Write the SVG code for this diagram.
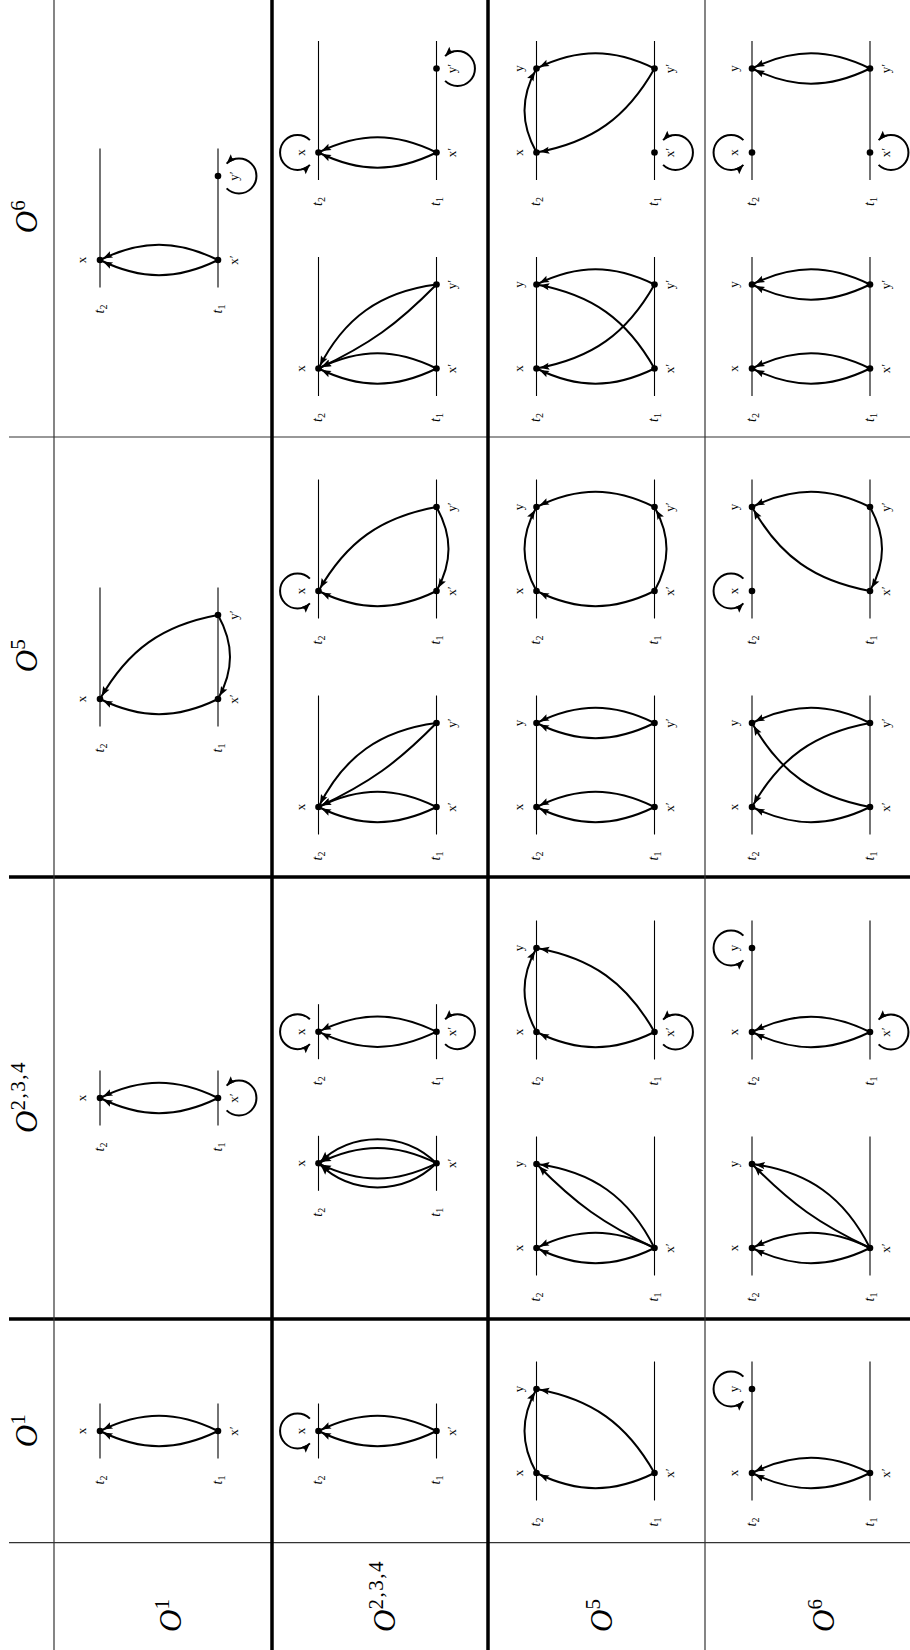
<svg xmlns="http://www.w3.org/2000/svg" width="910" height="1650" viewBox="0 0 910 1650">
<style>
.tl{stroke:#000;stroke-width:1.1}
.e{fill:none;stroke:#000;stroke-width:2;marker-end:url(#ah)}
.lp{fill:none;stroke:#000;stroke-width:2;marker-end:url(#al)}
.n{fill:#000}
.lb{font-family:"Liberation Serif",serif;font-size:13px;text-anchor:middle}
.tt{font-family:"Liberation Serif",serif;font-style:italic;font-size:14px;text-anchor:middle}
.sb{font-size:10px;font-style:normal}
.hd{font-family:"Liberation Serif",serif;font-style:italic;font-size:31px}
.sup{font-size:21px;font-style:normal;letter-spacing:1.5px}
.thin{stroke:#333;stroke-width:1.2}
.thick{stroke:#000;stroke-width:3.5}
</style>
<defs>
<marker id="ah" markerUnits="userSpaceOnUse" viewBox="-12 -5 16 10" markerWidth="16" markerHeight="10" refX="3.3" refY="0" orient="auto"><path d="M0,0 L-9.5,-3.6 L-7.8,0 L-9.5,3.6 Z" fill="#000"/></marker>
<marker id="al" markerUnits="userSpaceOnUse" viewBox="-12 -5 16 10" markerWidth="16" markerHeight="10" refX="0" refY="0" orient="auto"><path d="M0,0 L-9.5,-3.6 L-7.8,0 L-9.5,3.6 Z" fill="#000"/></marker>
</defs>
<rect width="910" height="1650" fill="#fff"/>
<g transform="matrix(0,-1,1,0,0,1650)">
<g id="grid">
<line class="thin" x1="107.3" y1="9" x2="107.3" y2="910"/>
<line class="thick" x1="331" y1="9" x2="331" y2="910"/>
<line class="thick" x1="773" y1="9" x2="773" y2="910"/>
<line class="thin" x1="1213" y1="9" x2="1213" y2="910"/>
<line class="thin" x1="0" y1="54" x2="1650" y2="54"/>
<line class="thick" x1="0" y1="272" x2="1650" y2="272"/>
<line class="thick" x1="0" y1="488" x2="1650" y2="488"/>
<line class="thin" x1="0" y1="705" x2="1650" y2="705"/>
</g>
<g id="headers">
<text class="hd" x="220" y="37" text-anchor="middle">O<tspan class="sup" dy="-12">1</tspan></text>
<text class="hd" x="553" y="37" text-anchor="middle">O<tspan class="sup" dy="-12">2,3,4</tspan></text>
<text class="hd" x="995" y="37" text-anchor="middle">O<tspan class="sup" dy="-12">5</tspan></text>
<text class="hd" x="1434" y="37" text-anchor="middle">O<tspan class="sup" dy="-12">6</tspan></text>
<text class="hd" x="18" y="181">O<tspan class="sup" dy="-12">1</tspan></text>
<text class="hd" x="18" y="395">O<tspan class="sup" dy="-12">2,3,4</tspan></text>
<text class="hd" x="18" y="612">O<tspan class="sup" dy="-12">5</tspan></text>
<text class="hd" x="18" y="834">O<tspan class="sup" dy="-12">6</tspan></text>
</g>

<!-- Row O1 -->
<g id="d11" transform="translate(219,100)">
<line class="tl" x1="-27.5" y1="0" x2="27.5" y2="0"/><line class="tl" x1="-27.5" y1="118" x2="27.5" y2="118"/>
<text class="tt" x="-49" y="3.5">t<tspan class="sb" dy="3">2</tspan></text><text class="tt" x="-49" y="121.5">t<tspan class="sb" dy="3">1</tspan></text>
<g class="connectors"><path class="e" d="M0,118 C20.25,76.5 20.25,41.5 0,0"/><path class="e" d="M0,118 C-20.25,76.5 -20.25,41.5 0,0"/></g>
<circle class="n" cx="0" cy="0" r="3.3"/><circle class="n" cx="0" cy="118" r="3.3"/>
<text class="lb" x="0" y="-13.7">x</text><text class="lb" x="0" y="137.7">x′</text>
</g>
<g id="d12" transform="translate(552,100)">
<line class="tl" x1="-27.5" y1="0" x2="27.5" y2="0"/><line class="tl" x1="-27.5" y1="118" x2="27.5" y2="118"/>
<text class="tt" x="-49" y="3.5">t<tspan class="sb" dy="3">2</tspan></text><text class="tt" x="-49" y="121.5">t<tspan class="sb" dy="3">1</tspan></text>
<g class="connectors"><path class="e" d="M0,118 C20.25,76.5 20.25,41.5 0,0"/><path class="e" d="M0,118 C-20.25,76.5 -20.25,41.5 0,0"/><path class="lp" d="M-12.4,126.6 A17.5,17.5 0 1 0 12.4,126.6"/></g>
<circle class="n" cx="0" cy="0" r="3.3"/><circle class="n" cx="0" cy="118" r="3.3"/>
<text class="lb" x="0" y="-13.7">x</text><text class="lb" x="0" y="137.7">x′</text>
</g>
<g id="d13" transform="translate(951,100)">
<line class="tl" x1="-27.5" y1="0" x2="111.5" y2="0"/><line class="tl" x1="-27.5" y1="118" x2="111.5" y2="118"/>
<text class="tt" x="-49" y="3.5">t<tspan class="sb" dy="3">2</tspan></text><text class="tt" x="-49" y="121.5">t<tspan class="sb" dy="3">1</tspan></text>
<g class="connectors"><path class="e" d="M0,118 C-20.25,76.5 -20.25,41.5 0,0"/><path class="e" d="M84,118 C73.7,62.2 49.4,28 0,0"/><path class="e" d="M84,118 C55.2,134 28.8,134 0,118"/></g>
<circle class="n" cx="0" cy="0" r="3.3"/><circle class="n" cx="0" cy="118" r="3.3"/><circle class="n" cx="84" cy="118" r="3.3"/>
<text class="lb" x="0" y="-13.7">x</text><text class="lb" x="0" y="137.7">x′</text><text class="lb" x="84" y="137.7">y′</text>
</g>
<g id="d14" transform="translate(1390,100)">
<line class="tl" x1="-27.5" y1="0" x2="111.5" y2="0"/><line class="tl" x1="-27.5" y1="118" x2="111.5" y2="118"/>
<text class="tt" x="-49" y="3.5">t<tspan class="sb" dy="3">2</tspan></text><text class="tt" x="-49" y="121.5">t<tspan class="sb" dy="3">1</tspan></text>
<g class="connectors"><path class="e" d="M0,118 C20.25,76.5 20.25,41.5 0,0"/><path class="e" d="M0,118 C-20.25,76.5 -20.25,41.5 0,0"/><path class="lp" d="M71.6,126.6 A17.5,17.5 0 1 0 96.4,126.6"/></g>
<circle class="n" cx="0" cy="0" r="3.3"/><circle class="n" cx="0" cy="118" r="3.3"/><circle class="n" cx="84" cy="118" r="3.3"/>
<text class="lb" x="0" y="-13.7">x</text><text class="lb" x="0" y="137.7">x′</text><text class="lb" x="84" y="137.7">y′</text>
</g>

<!-- Row O2,3,4 -->
<g id="d21" transform="translate(219,318.5)">
<line class="tl" x1="-27.5" y1="0" x2="27.5" y2="0"/><line class="tl" x1="-27.5" y1="118" x2="27.5" y2="118"/>
<text class="tt" x="-49" y="3.5">t<tspan class="sb" dy="3">2</tspan></text><text class="tt" x="-49" y="121.5">t<tspan class="sb" dy="3">1</tspan></text>
<g class="connectors"><path class="e" d="M0,118 C20.25,76.5 20.25,41.5 0,0"/><path class="e" d="M0,118 C-20.25,76.5 -20.25,41.5 0,0"/><path class="lp" d="M12.4,-8.6 A17.5,17.5 0 1 0 -12.4,-8.6"/></g>
<circle class="n" cx="0" cy="0" r="3.3"/><circle class="n" cx="0" cy="118" r="3.3"/>
<text class="lb" x="0" y="-13.7">x</text><text class="lb" x="0" y="137.7">x′</text>
</g>
<g id="d22a" transform="translate(486.7,318.5)">
<line class="tl" x1="-27.5" y1="0" x2="27.5" y2="0"/><line class="tl" x1="-27.5" y1="118" x2="27.5" y2="118"/>
<text class="tt" x="-49" y="3.5">t<tspan class="sb" dy="3">2</tspan></text><text class="tt" x="-49" y="121.5">t<tspan class="sb" dy="3">1</tspan></text>
<g class="connectors"><path class="e" d="M0,118 C20.25,76.5 20.25,41.5 0,0"/><path class="e" d="M0,118 C-20.25,76.5 -20.25,41.5 0,0"/><path class="e" d="M0,118 C32.1,84.8 32.1,33.2 0,0"/><path class="e" d="M0,118 C-32.1,84.8 -32.1,33.2 0,0"/></g>
<circle class="n" cx="0" cy="0" r="3.3"/><circle class="n" cx="0" cy="118" r="3.3"/>
<text class="lb" x="0" y="-13.7">x</text><text class="lb" x="0" y="137.7">x′</text>
</g>
<g id="d22b" transform="translate(618.3,318.5)">
<line class="tl" x1="-27.5" y1="0" x2="27.5" y2="0"/><line class="tl" x1="-27.5" y1="118" x2="27.5" y2="118"/>
<text class="tt" x="-49" y="3.5">t<tspan class="sb" dy="3">2</tspan></text><text class="tt" x="-49" y="121.5">t<tspan class="sb" dy="3">1</tspan></text>
<g class="connectors"><path class="e" d="M0,118 C20.25,76.5 20.25,41.5 0,0"/><path class="e" d="M0,118 C-20.25,76.5 -20.25,41.5 0,0"/><path class="lp" d="M12.4,-8.6 A17.5,17.5 0 1 0 -12.4,-8.6"/><path class="lp" d="M-12.4,126.6 A17.5,17.5 0 1 0 12.4,126.6"/></g>
<circle class="n" cx="0" cy="0" r="3.3"/><circle class="n" cx="0" cy="118" r="3.3"/>
<text class="lb" x="0" y="-13.7">x</text><text class="lb" x="0" y="137.7">x′</text>
</g>
<g id="d23a" transform="translate(843,318.5)">
<line class="tl" x1="-27.5" y1="0" x2="111.5" y2="0"/><line class="tl" x1="-27.5" y1="118" x2="111.5" y2="118"/>
<text class="tt" x="-49" y="3.5">t<tspan class="sb" dy="3">2</tspan></text><text class="tt" x="-49" y="121.5">t<tspan class="sb" dy="3">1</tspan></text>
<g class="connectors"><path class="e" d="M0,118 C20.25,76.5 20.25,41.5 0,0"/><path class="e" d="M0,118 C-20.25,76.5 -20.25,41.5 0,0"/><path class="e" d="M84,118 C76.7,61.7 50.7,25.4 0,0"/><path class="e" d="M84,118 C43.6,78.2 24.3,51.3 0,0"/></g>
<circle class="n" cx="0" cy="0" r="3.3"/><circle class="n" cx="0" cy="118" r="3.3"/><circle class="n" cx="84" cy="118" r="3.3"/>
<text class="lb" x="0" y="-13.7">x</text><text class="lb" x="0" y="137.7">x′</text><text class="lb" x="84" y="137.7">y′</text>
</g>
<g id="d23b" transform="translate(1059,318.5)">
<line class="tl" x1="-27.5" y1="0" x2="111.5" y2="0"/><line class="tl" x1="-27.5" y1="118" x2="111.5" y2="118"/>
<text class="tt" x="-49" y="3.5">t<tspan class="sb" dy="3">2</tspan></text><text class="tt" x="-49" y="121.5">t<tspan class="sb" dy="3">1</tspan></text>
<g class="connectors"><path class="e" d="M0,118 C-20.25,76.5 -20.25,41.5 0,0"/><path class="e" d="M84,118 C73.7,62.2 49.4,28 0,0"/><path class="e" d="M84,118 C55.2,134 28.8,134 0,118"/><path class="lp" d="M12.4,-8.6 A17.5,17.5 0 1 0 -12.4,-8.6"/></g>
<circle class="n" cx="0" cy="0" r="3.3"/><circle class="n" cx="0" cy="118" r="3.3"/><circle class="n" cx="84" cy="118" r="3.3"/>
<text class="lb" x="0" y="-13.7">x</text><text class="lb" x="0" y="137.7">x′</text><text class="lb" x="84" y="137.7">y′</text>
</g>
<g id="d24a" transform="translate(1281.5,318.5)">
<line class="tl" x1="-27.5" y1="0" x2="111.5" y2="0"/><line class="tl" x1="-27.5" y1="118" x2="111.5" y2="118"/>
<text class="tt" x="-49" y="3.5">t<tspan class="sb" dy="3">2</tspan></text><text class="tt" x="-49" y="121.5">t<tspan class="sb" dy="3">1</tspan></text>
<g class="connectors"><path class="e" d="M0,118 C20.25,76.5 20.25,41.5 0,0"/><path class="e" d="M0,118 C-20.25,76.5 -20.25,41.5 0,0"/><path class="e" d="M84,118 C76.7,61.7 50.7,25.4 0,0"/><path class="e" d="M84,118 C43.6,78.2 24.3,51.3 0,0"/></g>
<circle class="n" cx="0" cy="0" r="3.3"/><circle class="n" cx="0" cy="118" r="3.3"/><circle class="n" cx="84" cy="118" r="3.3"/>
<text class="lb" x="0" y="-13.7">x</text><text class="lb" x="0" y="137.7">x′</text><text class="lb" x="84" y="137.7">y′</text>
</g>
<g id="d24b" transform="translate(1497.5,318.5)">
<line class="tl" x1="-27.5" y1="0" x2="111.5" y2="0"/><line class="tl" x1="-27.5" y1="118" x2="111.5" y2="118"/>
<text class="tt" x="-49" y="3.5">t<tspan class="sb" dy="3">2</tspan></text><text class="tt" x="-49" y="121.5">t<tspan class="sb" dy="3">1</tspan></text>
<g class="connectors"><path class="e" d="M0,118 C20.25,76.5 20.25,41.5 0,0"/><path class="e" d="M0,118 C-20.25,76.5 -20.25,41.5 0,0"/><path class="lp" d="M12.4,-8.6 A17.5,17.5 0 1 0 -12.4,-8.6"/><path class="lp" d="M71.6,126.6 A17.5,17.5 0 1 0 96.4,126.6"/></g>
<circle class="n" cx="0" cy="0" r="3.3"/><circle class="n" cx="0" cy="118" r="3.3"/><circle class="n" cx="84" cy="118" r="3.3"/>
<text class="lb" x="0" y="-13.7">x</text><text class="lb" x="0" y="137.7">x′</text><text class="lb" x="84" y="137.7">y′</text>
</g>

<!-- Row O5 -->
<g id="d31" transform="translate(177,536.5)">
<line class="tl" x1="-27.5" y1="0" x2="111.5" y2="0"/><line class="tl" x1="-27.5" y1="118" x2="111.5" y2="118"/>
<text class="tt" x="-49" y="3.5">t<tspan class="sb" dy="3">2</tspan></text><text class="tt" x="-49" y="121.5">t<tspan class="sb" dy="3">1</tspan></text>
<g class="connectors"><path class="e" d="M0,118 C-20.25,76.5 -20.25,41.5 0,0"/><path class="e" d="M0,118 C49.4,90 73.7,55.8 84,0"/><path class="e" d="M0,0 C28.8,-16 55.2,-16 84,0"/></g>
<circle class="n" cx="0" cy="0" r="3.3"/><circle class="n" cx="84" cy="0" r="3.3"/><circle class="n" cx="0" cy="118" r="3.3"/>
<text class="lb" x="0" y="-13.7">x</text><text class="lb" x="84" y="-13.7">y</text><text class="lb" x="0" y="137.7">x′</text>
</g>
<g id="d32a" transform="translate(402,536.5)">
<line class="tl" x1="-27.5" y1="0" x2="111.5" y2="0"/><line class="tl" x1="-27.5" y1="118" x2="111.5" y2="118"/>
<text class="tt" x="-49" y="3.5">t<tspan class="sb" dy="3">2</tspan></text><text class="tt" x="-49" y="121.5">t<tspan class="sb" dy="3">1</tspan></text>
<g class="connectors"><path class="e" d="M0,118 C20.25,76.5 20.25,41.5 0,0"/><path class="e" d="M0,118 C-20.25,76.5 -20.25,41.5 0,0"/><path class="e" d="M0,118 C50.7,92.6 76.7,56.3 84,0"/><path class="e" d="M0,118 C24.3,66.7 43.6,39.8 84,0"/></g>
<circle class="n" cx="0" cy="0" r="3.3"/><circle class="n" cx="84" cy="0" r="3.3"/><circle class="n" cx="0" cy="118" r="3.3"/>
<text class="lb" x="0" y="-13.7">x</text><text class="lb" x="84" y="-13.7">y</text><text class="lb" x="0" y="137.7">x′</text>
</g>
<g id="d32b" transform="translate(618,536.5)">
<line class="tl" x1="-27.5" y1="0" x2="111.5" y2="0"/><line class="tl" x1="-27.5" y1="118" x2="111.5" y2="118"/>
<text class="tt" x="-49" y="3.5">t<tspan class="sb" dy="3">2</tspan></text><text class="tt" x="-49" y="121.5">t<tspan class="sb" dy="3">1</tspan></text>
<g class="connectors"><path class="e" d="M0,118 C-20.25,76.5 -20.25,41.5 0,0"/><path class="e" d="M0,118 C49.4,90 73.7,55.8 84,0"/><path class="e" d="M0,0 C28.8,-16 55.2,-16 84,0"/><path class="lp" d="M-12.4,126.6 A17.5,17.5 0 1 0 12.4,126.6"/></g>
<circle class="n" cx="0" cy="0" r="3.3"/><circle class="n" cx="84" cy="0" r="3.3"/><circle class="n" cx="0" cy="118" r="3.3"/>
<text class="lb" x="0" y="-13.7">x</text><text class="lb" x="84" y="-13.7">y</text><text class="lb" x="0" y="137.7">x′</text>
</g>
<g id="d33a" transform="translate(843,536.5)">
<line class="tl" x1="-27.5" y1="0" x2="111.5" y2="0"/><line class="tl" x1="-27.5" y1="118" x2="111.5" y2="118"/>
<text class="tt" x="-49" y="3.5">t<tspan class="sb" dy="3">2</tspan></text><text class="tt" x="-49" y="121.5">t<tspan class="sb" dy="3">1</tspan></text>
<g class="connectors"><path class="e" d="M0,118 C20.25,76.5 20.25,41.5 0,0"/><path class="e" d="M0,118 C-20.25,76.5 -20.25,41.5 0,0"/><path class="e" d="M84,118 C104.25,76.5 104.25,41.5 84,0"/><path class="e" d="M84,118 C63.75,76.5 63.75,41.5 84,0"/></g>
<circle class="n" cx="0" cy="0" r="3.3"/><circle class="n" cx="84" cy="0" r="3.3"/><circle class="n" cx="0" cy="118" r="3.3"/><circle class="n" cx="84" cy="118" r="3.3"/>
<text class="lb" x="0" y="-13.7">x</text><text class="lb" x="84" y="-13.7">y</text><text class="lb" x="0" y="137.7">x′</text><text class="lb" x="84" y="137.7">y′</text>
</g>
<g id="d33b" transform="translate(1059,536.5)">
<line class="tl" x1="-27.5" y1="0" x2="111.5" y2="0"/><line class="tl" x1="-27.5" y1="118" x2="111.5" y2="118"/>
<text class="tt" x="-49" y="3.5">t<tspan class="sb" dy="3">2</tspan></text><text class="tt" x="-49" y="121.5">t<tspan class="sb" dy="3">1</tspan></text>
<g class="connectors"><path class="e" d="M0,118 C-20.25,76.5 -20.25,41.5 0,0"/><path class="e" d="M84,118 C104.25,76.5 104.25,41.5 84,0"/><path class="e" d="M0,0 C28.8,-16 55.2,-16 84,0"/><path class="e" d="M0,118 C28.8,134 55.2,134 84,118"/></g>
<circle class="n" cx="0" cy="0" r="3.3"/><circle class="n" cx="84" cy="0" r="3.3"/><circle class="n" cx="0" cy="118" r="3.3"/><circle class="n" cx="84" cy="118" r="3.3"/>
<text class="lb" x="0" y="-13.7">x</text><text class="lb" x="84" y="-13.7">y</text><text class="lb" x="0" y="137.7">x′</text><text class="lb" x="84" y="137.7">y′</text>
</g>
<g id="d34a" transform="translate(1281.5,536.5)">
<line class="tl" x1="-27.5" y1="0" x2="111.5" y2="0"/><line class="tl" x1="-27.5" y1="118" x2="111.5" y2="118"/>
<text class="tt" x="-49" y="3.5">t<tspan class="sb" dy="3">2</tspan></text><text class="tt" x="-49" y="121.5">t<tspan class="sb" dy="3">1</tspan></text>
<g class="connectors"><path class="e" d="M0,118 C-20.25,76.5 -20.25,41.5 0,0"/><path class="e" d="M84,118 C104.25,76.5 104.25,41.5 84,0"/><path class="e" d="M0,118 C49.4,90 73.7,55.8 84,0"/><path class="e" d="M84,118 C34.6,90 10.3,55.8 0,0"/></g>
<circle class="n" cx="0" cy="0" r="3.3"/><circle class="n" cx="84" cy="0" r="3.3"/><circle class="n" cx="0" cy="118" r="3.3"/><circle class="n" cx="84" cy="118" r="3.3"/>
<text class="lb" x="0" y="-13.7">x</text><text class="lb" x="84" y="-13.7">y</text><text class="lb" x="0" y="137.7">x′</text><text class="lb" x="84" y="137.7">y′</text>
</g>
<g id="d34b" transform="translate(1497.5,536.5)">
<line class="tl" x1="-27.5" y1="0" x2="111.5" y2="0"/><line class="tl" x1="-27.5" y1="118" x2="111.5" y2="118"/>
<text class="tt" x="-49" y="3.5">t<tspan class="sb" dy="3">2</tspan></text><text class="tt" x="-49" y="121.5">t<tspan class="sb" dy="3">1</tspan></text>
<g class="connectors"><path class="e" d="M84,118 C104.25,76.5 104.25,41.5 84,0"/><path class="e" d="M84,118 C34.6,90 10.3,55.8 0,0"/><path class="e" d="M0,0 C28.8,-16 55.2,-16 84,0"/><path class="lp" d="M-12.4,126.6 A17.5,17.5 0 1 0 12.4,126.6"/></g>
<circle class="n" cx="0" cy="0" r="3.3"/><circle class="n" cx="84" cy="0" r="3.3"/><circle class="n" cx="0" cy="118" r="3.3"/><circle class="n" cx="84" cy="118" r="3.3"/>
<text class="lb" x="0" y="-13.7">x</text><text class="lb" x="84" y="-13.7">y</text><text class="lb" x="0" y="137.7">x′</text><text class="lb" x="84" y="137.7">y′</text>
</g>

<!-- Row O6 -->
<g id="d41" transform="translate(177,752)">
<line class="tl" x1="-27.5" y1="0" x2="111.5" y2="0"/><line class="tl" x1="-27.5" y1="118" x2="111.5" y2="118"/>
<text class="tt" x="-49" y="3.5">t<tspan class="sb" dy="3">2</tspan></text><text class="tt" x="-49" y="121.5">t<tspan class="sb" dy="3">1</tspan></text>
<g class="connectors"><path class="e" d="M0,118 C20.25,76.5 20.25,41.5 0,0"/><path class="e" d="M0,118 C-20.25,76.5 -20.25,41.5 0,0"/><path class="lp" d="M96.4,-8.6 A17.5,17.5 0 1 0 71.6,-8.6"/></g>
<circle class="n" cx="0" cy="0" r="3.3"/><circle class="n" cx="84" cy="0" r="3.3"/><circle class="n" cx="0" cy="118" r="3.3"/>
<text class="lb" x="0" y="-13.7">x</text><text class="lb" x="84" y="-13.7">y</text><text class="lb" x="0" y="137.7">x′</text>
</g>
<g id="d42a" transform="translate(402,752)">
<line class="tl" x1="-27.5" y1="0" x2="111.5" y2="0"/><line class="tl" x1="-27.5" y1="118" x2="111.5" y2="118"/>
<text class="tt" x="-49" y="3.5">t<tspan class="sb" dy="3">2</tspan></text><text class="tt" x="-49" y="121.5">t<tspan class="sb" dy="3">1</tspan></text>
<g class="connectors"><path class="e" d="M0,118 C20.25,76.5 20.25,41.5 0,0"/><path class="e" d="M0,118 C-20.25,76.5 -20.25,41.5 0,0"/><path class="e" d="M0,118 C50.7,92.6 76.7,56.3 84,0"/><path class="e" d="M0,118 C24.3,66.7 43.6,39.8 84,0"/></g>
<circle class="n" cx="0" cy="0" r="3.3"/><circle class="n" cx="84" cy="0" r="3.3"/><circle class="n" cx="0" cy="118" r="3.3"/>
<text class="lb" x="0" y="-13.7">x</text><text class="lb" x="84" y="-13.7">y</text><text class="lb" x="0" y="137.7">x′</text>
</g>
<g id="d42b" transform="translate(618,752)">
<line class="tl" x1="-27.5" y1="0" x2="111.5" y2="0"/><line class="tl" x1="-27.5" y1="118" x2="111.5" y2="118"/>
<text class="tt" x="-49" y="3.5">t<tspan class="sb" dy="3">2</tspan></text><text class="tt" x="-49" y="121.5">t<tspan class="sb" dy="3">1</tspan></text>
<g class="connectors"><path class="e" d="M0,118 C20.25,76.5 20.25,41.5 0,0"/><path class="e" d="M0,118 C-20.25,76.5 -20.25,41.5 0,0"/><path class="lp" d="M96.4,-8.6 A17.5,17.5 0 1 0 71.6,-8.6"/><path class="lp" d="M-12.4,126.6 A17.5,17.5 0 1 0 12.4,126.6"/></g>
<circle class="n" cx="0" cy="0" r="3.3"/><circle class="n" cx="84" cy="0" r="3.3"/><circle class="n" cx="0" cy="118" r="3.3"/>
<text class="lb" x="0" y="-13.7">x</text><text class="lb" x="84" y="-13.7">y</text><text class="lb" x="0" y="137.7">x′</text>
</g>
<g id="d43a" transform="translate(843,752)">
<line class="tl" x1="-27.5" y1="0" x2="111.5" y2="0"/><line class="tl" x1="-27.5" y1="118" x2="111.5" y2="118"/>
<text class="tt" x="-49" y="3.5">t<tspan class="sb" dy="3">2</tspan></text><text class="tt" x="-49" y="121.5">t<tspan class="sb" dy="3">1</tspan></text>
<g class="connectors"><path class="e" d="M0,118 C-20.25,76.5 -20.25,41.5 0,0"/><path class="e" d="M84,118 C104.25,76.5 104.25,41.5 84,0"/><path class="e" d="M84,118 C73.7,62.2 49.4,28 0,0"/><path class="e" d="M0,118 C10.3,62.2 34.6,28 84,0"/></g>
<circle class="n" cx="0" cy="0" r="3.3"/><circle class="n" cx="84" cy="0" r="3.3"/><circle class="n" cx="0" cy="118" r="3.3"/><circle class="n" cx="84" cy="118" r="3.3"/>
<text class="lb" x="0" y="-13.7">x</text><text class="lb" x="84" y="-13.7">y</text><text class="lb" x="0" y="137.7">x′</text><text class="lb" x="84" y="137.7">y′</text>
</g>
<g id="d43b" transform="translate(1059,752)">
<line class="tl" x1="-27.5" y1="0" x2="111.5" y2="0"/><line class="tl" x1="-27.5" y1="118" x2="111.5" y2="118"/>
<text class="tt" x="-49" y="3.5">t<tspan class="sb" dy="3">2</tspan></text><text class="tt" x="-49" y="121.5">t<tspan class="sb" dy="3">1</tspan></text>
<g class="connectors"><path class="e" d="M84,118 C104.25,76.5 104.25,41.5 84,0"/><path class="e" d="M84,118 C55.2,134 28.8,134 0,118"/><path class="e" d="M0,118 C10.3,62.2 34.6,28 84,0"/><path class="lp" d="M12.4,-8.6 A17.5,17.5 0 1 0 -12.4,-8.6"/></g>
<circle class="n" cx="0" cy="0" r="3.3"/><circle class="n" cx="84" cy="0" r="3.3"/><circle class="n" cx="0" cy="118" r="3.3"/><circle class="n" cx="84" cy="118" r="3.3"/>
<text class="lb" x="0" y="-13.7">x</text><text class="lb" x="84" y="-13.7">y</text><text class="lb" x="0" y="137.7">x′</text><text class="lb" x="84" y="137.7">y′</text>
</g>
<g id="d44a" transform="translate(1281.5,752)">
<line class="tl" x1="-27.5" y1="0" x2="111.5" y2="0"/><line class="tl" x1="-27.5" y1="118" x2="111.5" y2="118"/>
<text class="tt" x="-49" y="3.5">t<tspan class="sb" dy="3">2</tspan></text><text class="tt" x="-49" y="121.5">t<tspan class="sb" dy="3">1</tspan></text>
<g class="connectors"><path class="e" d="M0,118 C20.25,76.5 20.25,41.5 0,0"/><path class="e" d="M0,118 C-20.25,76.5 -20.25,41.5 0,0"/><path class="e" d="M84,118 C104.25,76.5 104.25,41.5 84,0"/><path class="e" d="M84,118 C63.75,76.5 63.75,41.5 84,0"/></g>
<circle class="n" cx="0" cy="0" r="3.3"/><circle class="n" cx="84" cy="0" r="3.3"/><circle class="n" cx="0" cy="118" r="3.3"/><circle class="n" cx="84" cy="118" r="3.3"/>
<text class="lb" x="0" y="-13.7">x</text><text class="lb" x="84" y="-13.7">y</text><text class="lb" x="0" y="137.7">x′</text><text class="lb" x="84" y="137.7">y′</text>
</g>
<g id="d44b" transform="translate(1497.5,752)">
<line class="tl" x1="-27.5" y1="0" x2="111.5" y2="0"/><line class="tl" x1="-27.5" y1="118" x2="111.5" y2="118"/>
<text class="tt" x="-49" y="3.5">t<tspan class="sb" dy="3">2</tspan></text><text class="tt" x="-49" y="121.5">t<tspan class="sb" dy="3">1</tspan></text>
<g class="connectors"><path class="e" d="M84,118 C104.25,76.5 104.25,41.5 84,0"/><path class="e" d="M84,118 C63.75,76.5 63.75,41.5 84,0"/><path class="lp" d="M12.4,-8.6 A17.5,17.5 0 1 0 -12.4,-8.6"/><path class="lp" d="M-12.4,126.6 A17.5,17.5 0 1 0 12.4,126.6"/></g>
<circle class="n" cx="0" cy="0" r="3.3"/><circle class="n" cx="84" cy="0" r="3.3"/><circle class="n" cx="0" cy="118" r="3.3"/><circle class="n" cx="84" cy="118" r="3.3"/>
<text class="lb" x="0" y="-13.7">x</text><text class="lb" x="84" y="-13.7">y</text><text class="lb" x="0" y="137.7">x′</text><text class="lb" x="84" y="137.7">y′</text>
</g>
</g>
</svg>
